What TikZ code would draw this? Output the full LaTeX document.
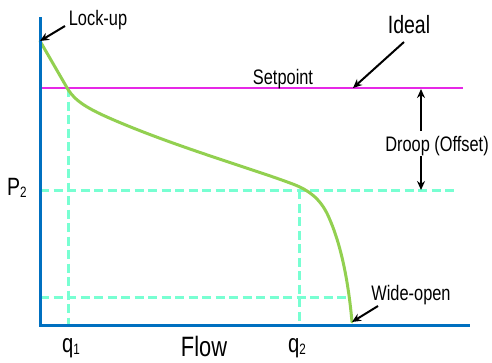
\documentclass[tikz,border=0pt]{standalone}
\usepackage{fontspec}
\setmainfont{Liberation Sans}[FakeStretch=0.78]
\usetikzlibrary{arrows.meta}
\definecolor{axisblue}{RGB}{0,112,192}
\definecolor{curvegreen}{RGB}{146,208,80}
\definecolor{setmag}{RGB}{230,40,230}
\definecolor{aqua}{RGB}{120,255,210}
\newcommand{\mysub}[1]{{\fontsize{15}{15}\selectfont\raisebox{-2.5pt}{#1}}}
\tikzset{
  axisline/.style={draw=axisblue,line width=3pt},
  setline/.style={draw=setmag,line width=1.3pt},
  guide/.style={draw=aqua,line width=3pt,dash pattern=on 9pt off 4.5pt},
  curve/.style={draw=curvegreen,line width=3pt,line cap=round},
  pointer/.style={draw=black,line width=2pt,-{Stealth[length=9pt,width=8pt]}},
  lbl/.style={inner sep=0pt,anchor=base,font=\fontsize{21}{21}\selectfont},
  biglbl/.style={inner sep=0pt,anchor=base,font=\fontsize{25}{25}\selectfont},
  qlbl/.style={inner sep=0pt,anchor=base west,font=\fontsize{26}{26}\selectfont},
}
\begin{document}
\begin{tikzpicture}[x=1pt,y=-1pt]
\useasboundingbox (0,0) rectangle (492,362);
% guides
\coordinate (o) at (40,325);
\coordinate (ytop) at (40,17);
\coordinate (xend) at (470,325);
\coordinate (spL) at (40,88);
\coordinate (spR) at (463,88);
\coordinate (p2L) at (40,190);
\coordinate (p2R) at (455,190);
\coordinate (lowL) at (40,297);
\coordinate (lowR) at (348,297);
\coordinate (q1T) at (68,88);
\coordinate (q1B) at (68,325);
\coordinate (q2T) at (299,190);
\coordinate (q2B) at (299,325);
\draw[guide] (p2L) -- (p2R);
\draw[guide] (lowL) -- (lowR);
\draw[guide] (q1T) -- (q1B);
\draw[guide] (q2T) -- (q2B);
\draw[setline] (spL) -- (spR);
% curve
\coordinate (lock) at (40,41);
\coordinate (wide) at (352,322);
\draw[curve] (lock) -- (66,86) .. controls (72,97) and (80,105) .. (107,117)
  .. controls (170,145) and (250,168) .. (290,183)
  .. controls (310,190) and (322,200) .. (330,220)
  .. controls (345,255) and (350,300) .. (wide);
% axes
\draw[axisline] (ytop) -- (o) -- (xend);
% labels
\node[lbl] (lockup) at (98,25) {Lock-up};
\node[biglbl] (ideal) at (409,33) {Ideal};
\node[lbl] (setpoint) at (283,84) {Setpoint};
\node[lbl] (droop) at (437,151) {Droop (Offset)};
\node[lbl] (wideopen) at (411,300) {Wide-open};
\node[biglbl,anchor=base west] (p2) at (7,195) {P\mysub{2}};
\node[qlbl] (q1) at (62,352) {q\mysub{1}};
\node[qlbl] (q2) at (288,352) {q\mysub{2}};
\node[inner sep=0pt,anchor=base,font=\fontsize{28}{28}\selectfont] (flow) at (204,356) {Flow};
% pointers
\coordinate (lockT) at (65,26);
\coordinate (idealT) at (404,42);
\coordinate (idealH) at (353,88);
\coordinate (wideT) at (378,306);
\coordinate (drUpT) at (421,131);
\coordinate (drUpH) at (421,89);
\coordinate (drDnT) at (421,156);
\coordinate (drDnH) at (421,190);
\draw[pointer] (lockT) -- (lock);
\draw[pointer] (idealT) -- (idealH);
\draw[pointer] (wideT) -- (wide);
\draw[pointer] (drUpT) -- (drUpH);
\draw[pointer] (drDnT) -- (drDnH);
\end{tikzpicture}
\end{document}
